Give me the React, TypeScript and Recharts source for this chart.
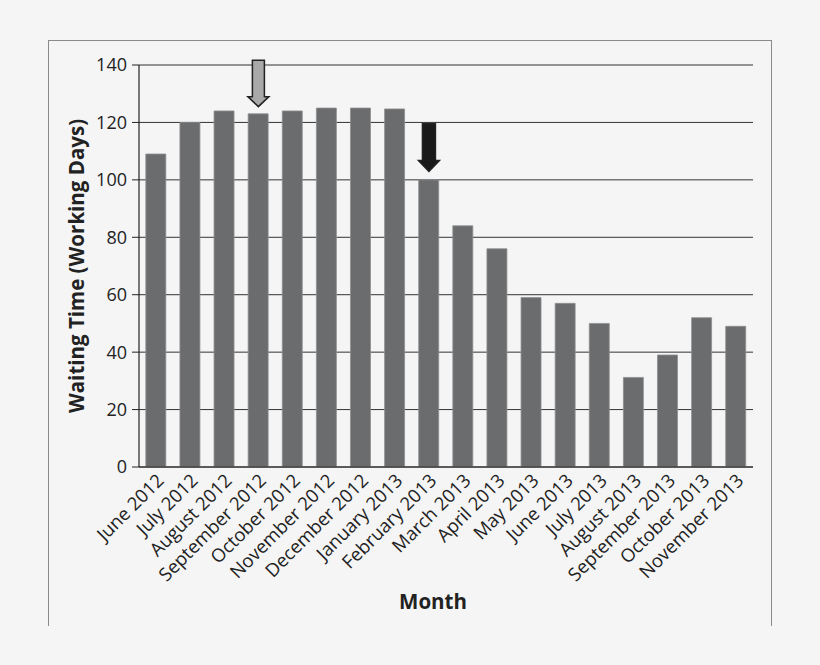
import { BarChart, Bar, XAxis, YAxis, CartesianGrid, ReferenceDot } from 'recharts'

const months = [
  'June 2012', 'July 2012', 'August 2012', 'September 2012', 'October 2012', 'November 2012',
  'December 2012', 'January 2013', 'February 2013', 'March 2013', 'April 2013', 'May 2013',
  'June 2013', 'July 2013', 'August 2013', 'September 2013', 'October 2013', 'November 2013',
]
const waitingDays = [109, 120, 124, 123, 124, 125, 125, 124.7, 100, 84, 76, 59, 57, 50, 31.2, 39, 52, 49]
const yTicks = [0, 20, 40, 60, 80, 100, 120, 140]

// arrows: category they point at and the value where the tip sits
const grayArrow = { month: 'September 2012', tip: 125.5 }
const blackArrow = { month: 'February 2013', tip: 102.9 }

const data = months.map((month, i) => ({ month, days: waitingDays[i] }))

const FONT = '"Open Sans", sans-serif'
const TEXT = '#222'

const XTick = ({ x, y, payload }: any) => (
  <g transform={`translate(${x - 1},${y - 3})`}>
    <text
      x={0}
      y={0}
      dy="0.75em"
      textAnchor="end"
      transform="rotate(-45)"
      fontSize={18.5}
      fontFamily={FONT}
      fill={TEXT}
    >
      {payload.value}
    </text>
  </g>
)

const arrowShape = (fill: string, shaftHalf: number, headHalf: number, headLen: number, total: number) =>
  (props: any) => {
    const { cx, cy } = props
    const d = [
      `M${cx},${cy}`,
      `L${cx - headHalf},${cy - headLen}`,
      `L${cx - shaftHalf},${cy - headLen}`,
      `L${cx - shaftHalf},${cy - total}`,
      `L${cx + shaftHalf},${cy - total}`,
      `L${cx + shaftHalf},${cy - headLen}`,
      `L${cx + headHalf},${cy - headLen}`,
      'Z',
    ].join(' ')
    return <path d={d} fill={fill} stroke="#222" strokeWidth={1.5} strokeLinejoin="miter" />
  }

export default function App() {
  return (
    <div style={{ position: 'absolute', left: 0, top: 0, width: 820, height: 665, background: '#f5f5f5' }}>
      <div
        style={{
          position: 'absolute',
          left: 48,
          top: 40,
          width: 722,
          height: 585,
          borderTop: '1.5px solid #8a8a8a',
          borderLeft: '1.5px solid #8a8a8a',
          borderRight: '1.5px solid #8a8a8a',
        }}
      />
      <div style={{ position: 'absolute', left: 0, top: 0 }}>
        <BarChart
          width={820}
          height={665}
          data={data}
          margin={{ top: 65, right: 67, left: 0, bottom: 0 }}
          barCategoryGap="20%"
        >
          <CartesianGrid vertical={false} stroke="#333" strokeWidth={1} />
          <XAxis
            dataKey="month"
            height={198}
            interval={0}
            tickLine={false}
            axisLine={{ stroke: '#222', strokeWidth: 1.2 }}
            tick={<XTick />}
            label={({ viewBox }: any) => (
              <text
                x={viewBox.x + viewBox.width / 2 - 13}
                y={viewBox.y + 142}
                textAnchor="middle"
                fontSize={20.5}
                fontWeight="bold"
                fontFamily={FONT}
                fill={TEXT}
              >
                Month
              </text>
            )}
          />
          <YAxis
            width={139}
            domain={[0, 140]}
            ticks={yTicks}
            interval={0}
            tickSize={7}
            tickMargin={5}
            axisLine={{ stroke: '#222', strokeWidth: 1.2 }}
            tickLine={{ stroke: '#222' }}
            tick={{ fontSize: 18, fontFamily: FONT, fill: TEXT }}
            label={({ viewBox }: any) => {
              const cx = viewBox.x + 77
              const cy = viewBox.y + viewBox.height / 2
              return (
                <text
                  x={cx}
                  y={cy}
                  dy="0.35em"
                  textAnchor="middle"
                  transform={`rotate(-90 ${cx} ${cy})`}
                  fontSize={20.5}
                  fontWeight="bold"
                  fontFamily={FONT}
                  fill={TEXT}
                >
                  Waiting Time (Working Days)
                </text>
              )
            }}
          />
          <YAxis
            yAxisId="right"
            orientation="right"
            width={0}
            domain={[0, 140]}
            tick={false}
            tickLine={false}
            axisLine={{ stroke: '#8a8a8a', strokeWidth: 1.5 }}
          />
          <Bar dataKey="days" fill="#6b6c6e" stroke="#8e8f91" strokeWidth={0.8} isAnimationActive={false} />
          <ReferenceDot
            x={grayArrow.month}
            y={grayArrow.tip}
            shape={arrowShape('#a9a9a9', 6, 10.5, 10, 46.5)}
          />
          <ReferenceDot
            x={blackArrow.month}
            y={blackArrow.tip}
            shape={arrowShape('#1a1a1a', 6.5, 10.5, 11, 47.7)}
          />
        </BarChart>
      </div>
    </div>
  )
}
